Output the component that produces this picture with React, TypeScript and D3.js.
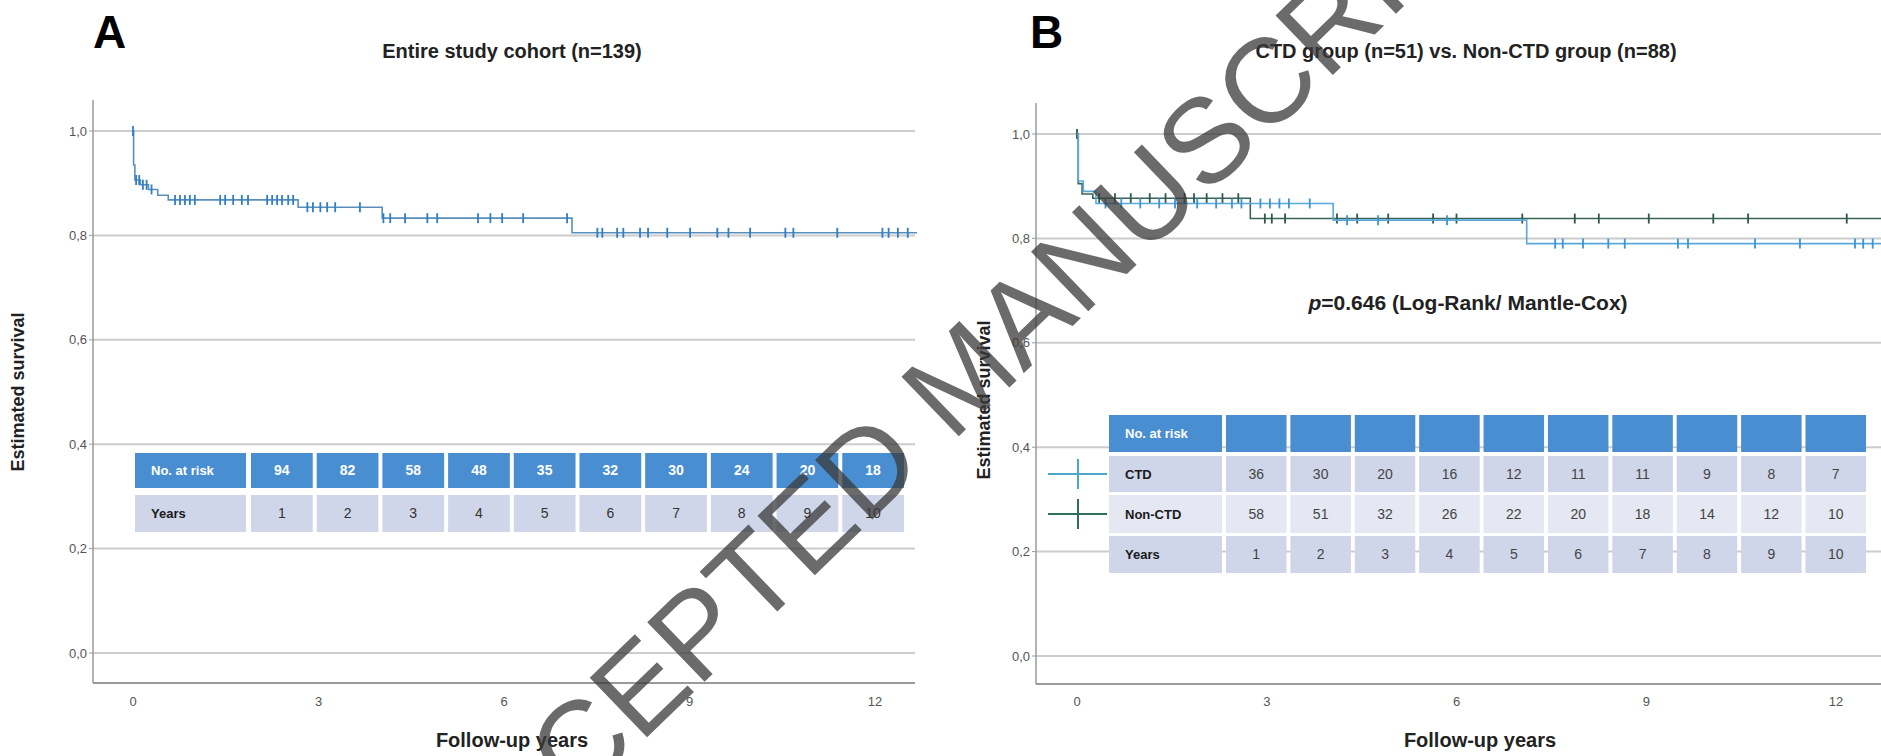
import React, { useEffect, useRef } from 'react';
import * as d3 from 'd3';

const W = 1881;
const H = 756;

const yearTicks = [0, 3, 6, 9, 12];
const survTicks = [0, 0.2, 0.4, 0.6, 0.8, 1.0];
const riskYears = [1, 2, 3, 4, 5, 6, 7, 8, 9, 10];

// numbers at risk
const atRiskAll = [94, 82, 58, 48, 35, 32, 30, 24, 20, 18];
const atRiskCTD = [36, 30, 20, 16, 12, 11, 11, 9, 8, 7];
const atRiskNonCTD = [58, 51, 32, 26, 22, 20, 18, 14, 12, 10];

// panel A, Kaplan-Meier steps (years, survival)
const allTimes = [0, 0.01, 0.03, 0.12, 0.25, 0.4, 0.57, 2.67, 4.03, 7.1];
const allSurv = [1.0, 0.935, 0.906, 0.897, 0.888, 0.877, 0.868, 0.854, 0.833, 0.805];
const allEnd = 12.68;
const allCensored = [0, 0.05, 0.1, 0.16, 0.22, 0.3, 0.68, 0.76, 0.84, 0.92, 1.0, 1.41, 1.49, 1.62, 1.76, 1.86,
  2.17, 2.25, 2.33, 2.41, 2.51, 2.59, 2.82, 2.91, 3.03, 3.14, 3.27, 3.67, 4.05, 4.16, 4.4, 4.76, 4.92,
  5.58, 5.78, 5.97, 6.31, 7.02, 7.51, 7.59, 7.83, 7.93, 8.2, 8.33, 8.64, 9.01, 9.45, 9.63, 9.98,
  10.55, 10.68, 11.39, 12.12, 12.22, 12.37, 12.53];

// panel B
const ctdTimes = [0, 0.02, 0.1, 0.3, 4.05, 7.11];
const ctdSurv = [1.0, 0.91, 0.89, 0.867, 0.835, 0.79];
const ctdEnd = 12.8;
const ctdCensored = [0.45, 0.7, 1.0, 1.3, 1.55, 1.9, 2.2, 2.45, 2.6, 2.9, 3.05, 3.2, 3.35, 3.68, 4.27, 4.76,
  5.85, 7.56, 7.68, 8.0, 8.4, 8.66, 9.5, 9.66, 10.72, 11.43, 12.3, 12.43, 12.58];

const nonTimes = [0, 0.02, 0.08, 0.25, 2.74];
const nonSurv = [1.0, 0.905, 0.885, 0.877, 0.838];
const nonEnd = 12.8;
const nonCensored = [0, 0.35, 0.6, 0.85, 1.15, 1.4, 1.7, 1.85, 2.05, 2.3, 2.55, 2.97, 3.08, 3.29, 4.11, 4.43,
  4.92, 5.63, 6.0, 7.04, 7.87, 8.25, 9.04, 10.06, 10.61, 12.17];

const FONT = "'Liberation Sans', Arial, sans-serif";
const BLUE_HEAD = '#4a8ed2';
const ROW_DARK = '#cfd6ea';
const ROW_LIGHT = '#e5e7f3';

const App = () => {
  const ref = useRef<SVGSVGElement>(null);

  useEffect(() => {
    document.body.style.margin = '0';
    const svg = d3.select(ref.current);
    svg.selectAll('*').remove();
    svg.append('rect').attr('width', W).attr('height', H).attr('fill', '#fff');

    const decimal = (v: number) => d3.format('.1f')(v).replace('.', ',');

    const survAt = (times: number[], surv: number[], t: number) =>
      surv[Math.max(0, d3.bisectRight(times, t) - 1)];

    const panel = (p: any) => {
      const g = svg.append('g');
      const { x, y } = p;

      g.append('text').attr('x', p.letterX).attr('y', 48)
        .attr('font-family', FONT).attr('font-weight', 'bold').attr('font-size', 46)
        .text(p.letter);

      g.append('text').attr('x', p.titleX).attr('y', 58).attr('text-anchor', 'middle')
        .attr('font-family', FONT).attr('font-weight', 'bold').attr('font-size', 20)
        .attr('fill', '#222').text(p.title);

      // gridlines
      g.selectAll('.grid').data(survTicks).enter().append('line')
        .attr('x1', p.axisX).attr('x2', p.plotRight)
        .attr('y1', (d) => y(d)).attr('y2', (d) => y(d))
        .attr('stroke', '#cccccc').attr('stroke-width', 2);

      // axes
      g.append('line').attr('x1', p.axisX).attr('x2', p.axisX)
        .attr('y1', p.yTop).attr('y2', p.xAxisY).attr('stroke', '#9a9a9a').attr('stroke-width', 1.5);
      g.append('line').attr('x1', p.axisX).attr('x2', p.plotRight)
        .attr('y1', p.xAxisY).attr('y2', p.xAxisY).attr('stroke', '#9a9a9a').attr('stroke-width', 2);

      g.selectAll('.ytm').data(survTicks).enter().append('line')
        .attr('x1', p.axisX - 4).attr('x2', p.axisX)
        .attr('y1', (d) => y(d)).attr('y2', (d) => y(d))
        .attr('stroke', '#9a9a9a').attr('stroke-width', 1);

      g.selectAll('.yt').data(survTicks).enter().append('text')
        .attr('x', p.axisX - 6).attr('y', (d) => y(d)).attr('dy', '0.35em')
        .attr('text-anchor', 'end').attr('font-family', FONT).attr('font-size', 13)
        .attr('fill', '#555').text((d) => decimal(d));

      g.selectAll('.xt').data(yearTicks).enter().append('text')
        .attr('x', (d) => x(d)).attr('y', 706).attr('text-anchor', 'middle')
        .attr('font-family', FONT).attr('font-size', 13).attr('fill', '#555')
        .text((d) => String(d));

      g.append('text').attr('x', p.xLabelX).attr('y', 747).attr('text-anchor', 'middle')
        .attr('font-family', FONT).attr('font-weight', 'bold').attr('font-size', 20)
        .attr('fill', '#222').text('Follow-up years');

      g.append('text')
        .attr('transform', `translate(${p.yLabelX},${p.yLabelY}) rotate(-90)`)
        .attr('text-anchor', 'middle').attr('font-family', FONT).attr('font-weight', 'bold')
        .attr('font-size', 18).attr('fill', '#222').text('Estimated survival');

      // curves
      const line = d3.line<[number, number]>()
        .x((d) => x(d[0])).y((d) => y(d[1])).curve(d3.curveStepAfter);

      p.curves.forEach((c: any) => {
        const pts: [number, number][] = c.times.map((t: number, i: number) => [t, c.surv[i]]);
        pts.push([c.end, c.surv[c.surv.length - 1]]);
        g.append('path').attr('d', line(pts)).attr('fill', 'none')
          .attr('stroke', c.color).attr('stroke-width', 1.6);
        g.selectAll(null).data(c.censored).enter().append('line')
          .attr('x1', (t: number) => x(t)).attr('x2', (t: number) => x(t))
          .attr('y1', (t: number) => y(survAt(c.times, c.surv, t)) - 5)
          .attr('y2', (t: number) => y(survAt(c.times, c.surv, t)) + 5)
          .attr('stroke', c.tick).attr('stroke-width', 1.8);
      });

      if (p.note) {
        const t = g.append('text').attr('x', p.note.x).attr('y', p.note.y).attr('text-anchor', 'middle')
          .attr('font-family', FONT).attr('font-weight', 'bold').attr('font-size', 21).attr('fill', '#222');
        t.append('tspan').attr('font-style', 'italic').text('p');
        t.append('tspan').text(p.note.text);
      }

      // number-at-risk table
      const tb = p.table;
      const band = d3.scaleBand<number>().domain(riskYears).range(tb.range).paddingInner(0.06);
      tb.rows.forEach((r: any) => {
        g.append('rect').attr('x', tb.labelX0).attr('y', r.y)
          .attr('width', tb.labelX1 - tb.labelX0).attr('height', r.h).attr('fill', r.fill);
        g.selectAll(null).data(riskYears).enter().append('rect')
          .attr('x', (d) => band(d)!).attr('y', r.y)
          .attr('width', band.bandwidth()).attr('height', r.h).attr('fill', r.fill);
        g.append('text').attr('x', tb.labelX0 + 16).attr('y', r.y + r.h / 2).attr('dy', '0.35em')
          .attr('font-family', FONT).attr('font-weight', 'bold').attr('font-size', 13)
          .attr('fill', r.labelColor).text(r.label);
        if (r.values) {
          g.selectAll(null).data(r.values).enter().append('text')
            .attr('x', (_d: number, i: number) => band(riskYears[i])! + band.bandwidth() / 2)
            .attr('y', r.y + r.h / 2).attr('dy', '0.35em').attr('text-anchor', 'middle')
            .attr('font-family', FONT).attr('font-size', 14)
            .attr('font-weight', r.valueBold ? 'bold' : 'normal')
            .attr('fill', r.valueColor).text((d: number) => String(d));
        }
        if (r.legend) {
          g.append('line').attr('x1', 1048).attr('x2', 1107)
            .attr('y1', r.y + r.h / 2).attr('y2', r.y + r.h / 2)
            .attr('stroke', r.legend).attr('stroke-width', 2);
          g.append('line').attr('x1', 1078).attr('x2', 1078)
            .attr('y1', r.y + r.h / 2 - 15).attr('y2', r.y + r.h / 2 + 15)
            .attr('stroke', r.legend).attr('stroke-width', 2);
        }
      });
    };

    panel({
      letter: 'A', letterX: 93, title: 'Entire study cohort (n=139)', titleX: 512,
      axisX: 93, plotRight: 915, yTop: 100, xAxisY: 683, xLabelX: 512, yLabelX: 24, yLabelY: 392,
      x: d3.scaleLinear().domain([0, 12]).range([133, 875]),
      y: d3.scaleLinear().domain([0, 1]).range([653, 131]),
      curves: [
        { times: allTimes, surv: allSurv, end: allEnd, censored: allCensored, color: '#5a8fbb', tick: '#2f7fc4' },
      ],
      table: {
        labelX0: 135, labelX1: 246, range: [251, 904],
        rows: [
          { y: 453, h: 35, fill: BLUE_HEAD, label: 'No. at risk', labelColor: '#fff', values: atRiskAll, valueColor: '#fff', valueBold: true },
          { y: 495, h: 37, fill: ROW_DARK, label: 'Years', labelColor: '#1a1a1a', values: riskYears, valueColor: '#333' },
        ],
      },
    });

    panel({
      letter: 'B', letterX: 1030, title: 'CTD group (n=51) vs. Non-CTD group (n=88)', titleX: 1466,
      axisX: 1036, plotRight: W, yTop: 103, xAxisY: 684, xLabelX: 1480, yLabelX: 990, yLabelY: 400,
      x: d3.scaleLinear().domain([0, 12]).range([1077, 1836]),
      y: d3.scaleLinear().domain([0, 1]).range([656, 134]),
      curves: [
        { times: nonTimes, surv: nonSurv, end: nonEnd, censored: nonCensored, color: '#3b6458', tick: '#2d5a4e' },
        { times: ctdTimes, surv: ctdSurv, end: ctdEnd, censored: ctdCensored, color: '#5aa8dc', tick: '#3b95d0' },
      ],
      note: { x: 1468, y: 310, text: '=0.646 (Log-Rank/ Mantle-Cox)' },
      table: {
        labelX0: 1109, labelX1: 1222, range: [1226, 1866],
        rows: [
          { y: 415, h: 37, fill: BLUE_HEAD, label: 'No. at risk', labelColor: '#fff' },
          { y: 456, h: 36, fill: ROW_DARK, label: 'CTD', labelColor: '#1a1a1a', values: atRiskCTD, valueColor: '#444', legend: '#4aa7c8' },
          { y: 495, h: 38, fill: ROW_LIGHT, label: 'Non-CTD', labelColor: '#1a1a1a', values: atRiskNonCTD, valueColor: '#444', legend: '#2f6e5d' },
          { y: 536, h: 37, fill: ROW_DARK, label: 'Years', labelColor: '#1a1a1a', values: riskYears, valueColor: '#444' },
        ],
      },
    });

    // watermark
    svg.append('text')
      .attr('transform', 'translate(990,406) rotate(-44)')
      .attr('text-anchor', 'middle').attr('font-family', FONT).attr('font-size', 120)
      .attr('fill', '#3a3a3a').attr('opacity', 0.75)
      .text('ACCEPTED MANUSCRIPT');
  }, []);

  return <svg ref={ref} width={W} height={H} style={{ display: 'block' }} />;
};

export default App;
